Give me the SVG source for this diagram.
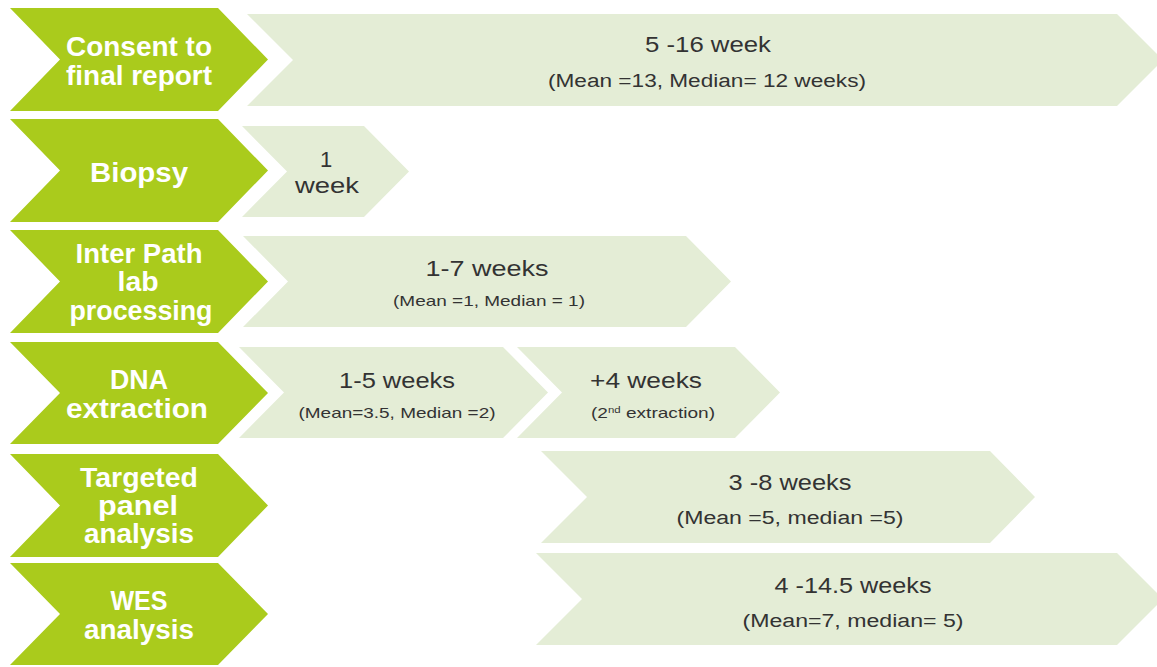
<svg xmlns="http://www.w3.org/2000/svg" width="1157" height="667" viewBox="0 0 1157 667">
<style>
.g{fill:#AACB1C}
.l{fill:#E4EDD6}
.t{font-family:"Liberation Sans",Arial,sans-serif;font-weight:bold;font-size:27px;fill:#FFFFFF;text-anchor:middle}
.d{font-family:"Liberation Sans",Arial,sans-serif;font-size:22px;fill:#333333;text-anchor:middle}
.s{font-family:"Liberation Sans",Arial,sans-serif;font-size:15px;fill:#333333;text-anchor:middle}
.m{font-family:"Liberation Sans",Arial,sans-serif;font-size:18px;fill:#333333;text-anchor:middle}
</style>
<rect width="1157" height="667" fill="#FFFFFF"/>
<g id="consent">
<polygon class="g" points="10,8 218,8 268,59.5 218,111 10,111 60,59.5"/>
<text class="t" x="139" y="56" textLength="146" lengthAdjust="spacingAndGlyphs">Consent to</text>
<text class="t" x="139" y="85" textLength="146" lengthAdjust="spacingAndGlyphs">final report</text>
</g>
<g id="consent-duration">
<polygon class="l" points="247,14 1117,14 1163,60 1117,106 247,106 293,60"/>
<text class="d" x="708" y="52" textLength="126" lengthAdjust="spacingAndGlyphs">5 -16 week</text>
<text class="m" x="707" y="87" textLength="318" lengthAdjust="spacingAndGlyphs">(Mean =13, Median= 12 weeks)</text>
</g>
<g id="biopsy">
<polygon class="g" points="10,119 218,119 268,170.5 218,222 10,222 60,170.5"/>
<text class="t" x="139" y="182" textLength="98" lengthAdjust="spacingAndGlyphs">Biopsy</text>
</g>
<g id="biopsy-duration">
<polygon class="l" points="242,126 364,126 409,171.5 364,217 242,217 287,171.5"/>
<text class="d" x="326" y="167">1</text>
<text class="d" x="327" y="193" textLength="64" lengthAdjust="spacingAndGlyphs">week</text>
</g>
<g id="interpath">
<polygon class="g" points="10,230 218,230 268,281.5 218,333 10,333 60,281.5"/>
<text class="t" x="139" y="263" textLength="127" lengthAdjust="spacingAndGlyphs">Inter Path</text>
<text class="t" x="138" y="291" textLength="41" lengthAdjust="spacingAndGlyphs">lab</text>
<text class="t" x="141" y="320" textLength="143" lengthAdjust="spacingAndGlyphs">processing</text>
</g>
<g id="interpath-duration">
<polygon class="l" points="243,236 686,236 731,281.5 686,327 243,327 288,281.5"/>
<text class="d" x="487" y="276" textLength="123" lengthAdjust="spacingAndGlyphs">1-7 weeks</text>
<text class="s" x="489" y="306" textLength="192" lengthAdjust="spacingAndGlyphs">(Mean =1, Median = 1)</text>
</g>
<g id="dna">
<polygon class="g" points="10,342 218,342 268,393 218,444 10,444 60,393"/>
<text class="t" x="139" y="389" textLength="58" lengthAdjust="spacingAndGlyphs">DNA</text>
<text class="t" x="137" y="418" textLength="142" lengthAdjust="spacingAndGlyphs">extraction</text>
</g>
<g id="dna-duration">
<polygon class="l" points="239,347 503,347 548,392.5 503,438 239,438 284,392.5"/>
<text class="d" x="397" y="388" textLength="116" lengthAdjust="spacingAndGlyphs">1-5 weeks</text>
<text class="s" x="397" y="418" textLength="197" lengthAdjust="spacingAndGlyphs">(Mean=3.5, Median =2)</text>
</g>
<g id="dna-second">
<polygon class="l" points="517,347 735,347 780,392.5 735,438 517,438 562,392.5"/>
<text class="d" x="646" y="388" textLength="112" lengthAdjust="spacingAndGlyphs">+4 weeks</text>
<text class="s" x="653" y="418" textLength="124" lengthAdjust="spacingAndGlyphs">(2<tspan font-size="9" dy="-5">nd</tspan><tspan dy="5"> extraction)</tspan></text>
</g>
<g id="targeted">
<polygon class="g" points="10,454 218,454 268,505.5 218,557 10,557 60,505.5"/>
<text class="t" x="139" y="487" textLength="118" lengthAdjust="spacingAndGlyphs">Targeted</text>
<text class="t" x="138" y="515" textLength="80" lengthAdjust="spacingAndGlyphs">panel</text>
<text class="t" x="139" y="543" textLength="110" lengthAdjust="spacingAndGlyphs">analysis</text>
</g>
<g id="targeted-duration">
<polygon class="l" points="541,451 990,451 1035,497 990,543 541,543 587,497"/>
<text class="d" x="790" y="490" textLength="123" lengthAdjust="spacingAndGlyphs">3 -8 weeks</text>
<text class="m" x="790" y="524" textLength="227" lengthAdjust="spacingAndGlyphs">(Mean =5, median =5)</text>
</g>
<g id="wes">
<polygon class="g" points="10,563 218,563 268,614 218,665 10,665 60,614"/>
<text class="t" x="139" y="610" textLength="57" lengthAdjust="spacingAndGlyphs">WES</text>
<text class="t" x="139" y="639" textLength="110" lengthAdjust="spacingAndGlyphs">analysis</text>
</g>
<g id="wes-duration">
<polygon class="l" points="536,553 1117,553 1163,599 1117,645 536,645 582,599"/>
<text class="d" x="853" y="593" textLength="157" lengthAdjust="spacingAndGlyphs">4 -14.5 weeks</text>
<text class="m" x="853" y="627" textLength="221" lengthAdjust="spacingAndGlyphs">(Mean=7, median= 5)</text>
</g>
</svg>
